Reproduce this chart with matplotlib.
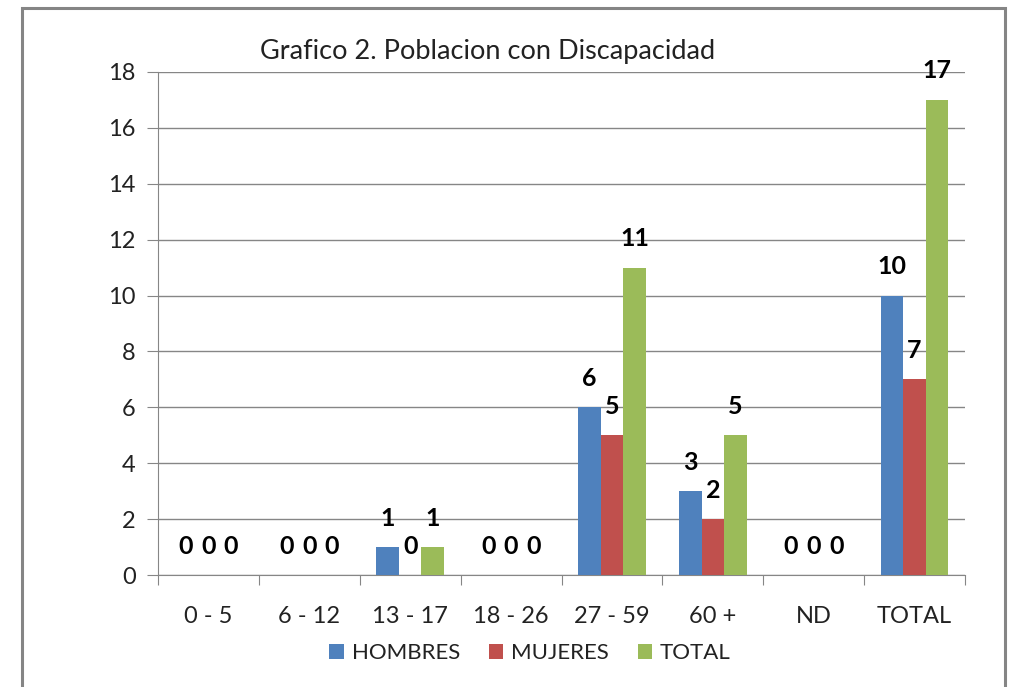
import numpy as np
import matplotlib
matplotlib.use("Agg")
import matplotlib.pyplot as plt
from matplotlib.patches import Rectangle

# data
categories = ["0 - 5", "6 - 12", "13 - 17", "18 - 26", "27 - 59", "60 +", "ND", "TOTAL"]
hombres = [0, 0, 1, 0, 6, 3, 0, 10]
mujeres = [0, 0, 0, 0, 5, 2, 0, 7]
total = [0, 0, 1, 0, 11, 5, 0, 17]
series_names = ["HOMBRES", "MUJERES", "TOTAL"]
colors = ["#4f81bd", "#c0504d", "#9bbb59"]

plt.rcParams['font.family'] = ['Lato', 'DejaVu Sans']

fig = plt.figure(figsize=(10.1, 6.87), dpi=100)
ax = fig.add_axes([158 / 1010, 1 - 575 / 687, 807 / 1010, 503 / 687])

# outer frame of the chart
fig.patches.append(Rectangle((22 / 1010, -0.2), 983 / 1010, 1.2 - 8 / 687,
                             transform=fig.transFigure, fill=False,
                             edgecolor="#858585", lw=2.2, clip_on=False))

x = np.arange(len(categories))
w = 0.224
for i, (vals, name, col) in enumerate(zip([hombres, mujeres, total], series_names, colors)):
    pos = x + (i - 1) * w
    ax.bar(pos, vals, width=w, color=col, label=name, zorder=3)
    for px, v in zip(pos, vals):
        ax.annotate(str(v), (px, v), xytext=(0, 29), textcoords="offset pixels",
                    ha="center", va="center", fontsize=18, fontweight="bold",
                    color="black", zorder=4)

ax.set_xlim(-0.5, len(categories) - 0.5)
ax.set_ylim(0, 18)
ax.set_yticks(range(0, 19, 2))
ax.set_xticks(np.arange(len(categories) + 1) - 0.5, minor=False)
ax.set_xticklabels([])
ax.set_xticks(x, minor=True)
ax.set_xticklabels(categories, minor=True)
ax.tick_params(axis="x", which="minor", length=0, pad=22, labelsize=17, colors="#222222")
ax.tick_params(axis="x", which="major", length=7, color="#868686", direction="out")
ax.tick_params(axis="y", length=8, color="#868686", pad=8, labelsize=17, labelcolor="#222222")
ax.grid(axis="y", color="#868686", lw=1, zorder=0)
for s in ["top", "right"]:
    ax.spines[s].set_visible(False)
ax.spines["left"].set_color("#868686")
ax.spines["bottom"].set_color("#868686")

fig.text(260 / 1010, 1 - 52 / 687, "Grafico 2. Poblacion con Discapacidad",
         fontsize=19.5, va="center", ha="left", color="#222222")

fig.legend(loc="center", bbox_to_anchor=(530 / 1010, 1 - 653 / 687), ncol=3,
           frameon=False, fontsize=16, handlelength=0.65, handleheight=0.65,
           handletextpad=0.35, columnspacing=1.3, labelcolor="#222222")

fig.savefig("out.png", dpi=100)
